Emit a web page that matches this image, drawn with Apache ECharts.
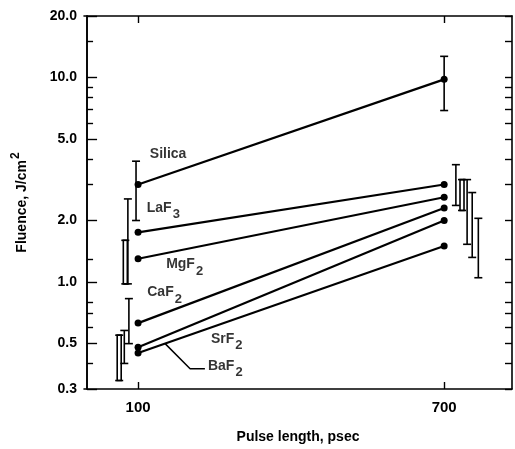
<!DOCTYPE html>
<html>
<head>
<meta charset="utf-8">
<script src="https://cdn.jsdelivr.net/npm/echarts@6/dist/echarts.min.js"></script>
<style>
html, body { margin: 0; padding: 0; background: #fff; }
#container { width: 515px; height: 449px; }
</style>
</head>
<body>
<div id="container"></div>
<script>
var materials = ['Silica', 'LaF3', 'MgF2', 'CaF2', 'SrF2', 'BaF2'];
var labelMain = ['Silica', 'LaF', 'MgF', 'CaF', 'SrF', 'BaF'];
var labelSub = ['', '3', '2', '2', '2', '2'];
var fluenceAt100 = [3.0, 1.75, 1.3, 0.63, 0.48, 0.45];
var fluenceAt700 = [9.8, 3.0, 2.6, 2.3, 2.0, 1.5];

// error bars, drawn a little beside the points like in the original figure
var errX100 = [96, 80, 75, 82, 73, 63];
var errLow100 = [2.0, 0.98, 0.98, 0.5, 0.40, 0.33];
var errHigh100 = [3.9, 2.55, 1.6, 0.83, 0.58, 0.55];
var errX700 = [700, 723, 735, 745, 755, 767];
var errLow700 = [6.9, 2.37, 2.24, 1.53, 1.32, 1.05];
var errHigh700 = [12.7, 3.75, 3.17, 3.17, 2.74, 2.05];
var hollowBars = ['MgF2', 'BaF2'];

var xTicks = [100, 700];
var yMajorTicks = [0.3, 0.5, 1, 2, 5, 10, 20];
var yMinorTicks = [0.4, 0.6, 0.7, 0.8, 1.3, 3, 4, 6, 7, 8, 9, 15];

// where the material names sit (data coords)
var labelX = [123, 117, 155, 118, 243, 237];
var labelY = [4.24, 2.31, 1.22, 0.89, 0.528, 0.39];
var leaderX = [153, 202, 231];
var leaderY = [0.5, 0.377, 0.377];

var FONT = 'Liberation Sans';
var dom = document.getElementById('container');
var myChart = echarts.init(dom);

var X_MIN = -6, X_MAX = 833, Y_MIN = 0.3, Y_MAX = 20;

function yAxisBase(pos, ticks, len, labels) {
    return {
        type: 'log', logBase: 10, min: Y_MIN, max: Y_MAX, position: pos,
        axisLine: { show: true, lineStyle: { color: '#000', width: 1.6 } },
        axisTick: { show: true, inside: true, length: len, customValues: ticks,
            lineStyle: { color: '#000', width: 1.4 } },
        axisLabel: labels ? {
            show: true, customValues: yMajorTicks, margin: 7,
            fontFamily: FONT, fontWeight: 'bold', fontSize: 14, color: '#000',
            formatter: function (v) { return Number(v).toFixed(1); }
        } : { show: false },
        splitLine: { show: false },
        minorTick: { show: false }
    };
}

var errData = [];
for (var i = 0; i < materials.length; i++) {
    var hollow = hollowBars.indexOf(materials[i]) >= 0 ? 1 : 0;
    errData.push([errX100[i], errLow100[i], errHigh100[i], hollow]);
    errData.push([errX700[i], errLow700[i], errHigh700[i], materials[i] === 'MgF2' ? 1 : 0]);
}

function errorBarItem(params, api) {
    var x = api.value(0);
    var top = api.coord([x, api.value(2)]);
    var bot = api.coord([x, api.value(1)]);
    var st = { stroke: '#000', lineWidth: 1.6, fill: null };
    var kids = [];
    if (api.value(3)) {
        kids.push({ type: 'rect', shape: { x: top[0] - 2, y: top[1], width: 4, height: bot[1] - top[1] }, style: st });
    } else {
        kids.push({ type: 'line', shape: { x1: top[0], y1: top[1], x2: bot[0], y2: bot[1] }, style: st });
    }
    kids.push({ type: 'line', shape: { x1: top[0] - 4, y1: top[1], x2: top[0] + 4, y2: top[1] }, style: st });
    kids.push({ type: 'line', shape: { x1: bot[0] - 4, y1: bot[1], x2: bot[0] + 4, y2: bot[1] }, style: st });
    return { type: 'group', children: kids };
}

var series = [];
for (var k = 0; k < materials.length; k++) {
    series.push({
        name: materials[k],
        type: 'line',
        data: [[100, fluenceAt100[k]], [700, fluenceAt700[k]]],
        symbol: 'circle',
        symbolSize: 7,
        itemStyle: { color: '#000' },
        lineStyle: { color: '#000', width: 2.2 },
        silent: true
    });
}
series.push({
    type: 'custom',
    renderItem: errorBarItem,
    data: errData,
    silent: true
});

var labelData = [];
for (var j = 0; j < materials.length; j++) {
    labelData.push({ value: [labelX[j], labelY[j]], main: labelMain[j], sub: labelSub[j] });
}
series.push({
    type: 'scatter',
    data: labelData,
    symbolSize: 0,
    silent: true,
    label: {
        show: true,
        position: 'right',
        distance: 0,
        formatter: function (p) {
            var s = '{b|' + p.data.main + '}';
            if (p.data.sub) s += '{s|' + p.data.sub + '}';
            return s;
        },
        rich: {
            b: { fontFamily: FONT, fontWeight: 'bold', fontSize: 14, color: '#000', verticalAlign: 'middle' },
            s: { fontFamily: FONT, fontWeight: 'bold', fontSize: 13, color: '#000', padding: [14, 0, 0, 1], verticalAlign: 'middle' }
        }
    }
});
series.push({
    type: 'line',
    data: leaderX.map(function (x, i) { return [x, leaderY[i]]; }),
    symbol: 'none',
    lineStyle: { color: '#000', width: 1.5 },
    silent: true
});

option = {
    animation: false,
    backgroundColor: '#fff',
    grid: { left: 84, right: 3, top: 16, bottom: 57 },
    xAxis: [{
        type: 'value', min: X_MIN, max: X_MAX, position: 'bottom',
        name: 'Pulse length, psec', nameLocation: 'middle', nameGap: 41,
        nameTextStyle: { fontFamily: FONT, fontWeight: 'bold', fontSize: 14, color: '#000' },
        axisLine: { show: true, lineStyle: { color: '#000', width: 1.6 } },
        axisTick: { show: true, inside: true, length: 7, customValues: xTicks, lineStyle: { color: '#000', width: 1.4 } },
        axisLabel: { show: true, customValues: xTicks, margin: 11, fontFamily: FONT, fontWeight: 'bold', fontSize: 15, color: '#000' },
        splitLine: { show: false }
    }, {
        type: 'value', min: X_MIN, max: X_MAX, position: 'top',
        axisLine: { show: true, lineStyle: { color: '#000', width: 1.6 } },
        axisTick: { show: true, inside: true, length: 7, customValues: xTicks, lineStyle: { color: '#000', width: 1.4 } },
        axisLabel: { show: false },
        splitLine: { show: false }
    }],
    yAxis: [
        (function () {
            var a = yAxisBase('left', yMajorTicks, 10, true);
            a.name = '{n|Fluence, J/cm}{p|2}';
            a.nameLocation = 'middle';
            a.nameGap = 50;
            a.nameTextStyle = {
                rich: {
                    n: { fontFamily: FONT, fontWeight: 'bold', fontSize: 14, color: '#000', verticalAlign: 'middle' },
                    p: { fontFamily: FONT, fontWeight: 'bold', fontSize: 12, color: '#000', padding: [0, 0, 12, 1], verticalAlign: 'middle' }
                }
            };
            return a;
        })(),
        yAxisBase('left', yMinorTicks, 6, false),
        yAxisBase('right', yMajorTicks.concat(yMinorTicks), 7, false)
    ],
    series: series
};

if (option && typeof option === 'object') {
    myChart.setOption(option, true);
}
</script>
</body>
</html>
